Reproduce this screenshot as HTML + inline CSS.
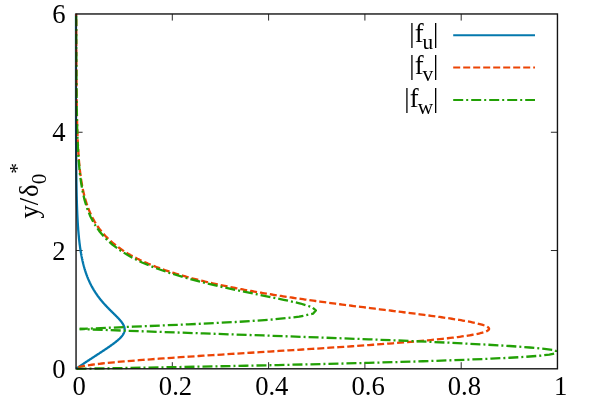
<!DOCTYPE html>
<html><head><meta charset="utf-8"><title>plot</title>
<style>html,body{margin:0;padding:0;background:#fff;}body{width:592px;height:415px;overflow:hidden;font-family:"Liberation Serif",serif;}</style>
</head><body>
<svg width="592" height="415" viewBox="0 0 592 415" style="display:block;will-change:transform">
<rect width="592" height="415" fill="#fff"/>
<path d="M172.30,368.8 v-6.6 M172.30,13.97 v6.6 M268.60,368.8 v-6.6 M268.60,13.97 v6.6 M364.90,368.8 v-6.6 M364.90,13.97 v6.6 M461.20,368.8 v-6.6 M461.20,13.97 v6.6 M76.0,250.52 h6.6 M557.5,250.52 h-6.6 M76.0,132.25 h6.6 M557.5,132.25 h-6.6" stroke="#2a2a2a" stroke-width="1" fill="none"/>
<clipPath id="pc"><rect x="74.05" y="12.97" width="483.40" height="357.03"/></clipPath>
<g fill="none" stroke-width="2" stroke-linejoin="round" clip-path="url(#pc)">
<path stroke-width="2.3" d="M76.00,368.81 L76.46,368.49 L76.91,368.17 L77.37,367.85 L77.83,367.54 L78.28,367.22 L78.74,366.91 L79.20,366.60 L79.65,366.29 L80.11,365.98 L80.57,365.67 L81.02,365.36 L81.48,365.05 L81.94,364.75 L82.39,364.44 L82.85,364.14 L83.31,363.83 L83.76,363.53 L84.22,363.22 L84.67,362.92 L85.13,362.62 L85.59,362.32 L86.04,362.02 L86.50,361.71 L86.96,361.41 L87.41,361.11 L87.87,360.81 L88.32,360.52 L88.78,360.22 L89.24,359.92 L89.69,359.62 L90.15,359.32 L90.60,359.02 L91.06,358.73 L91.51,358.43 L91.97,358.13 L92.42,357.83 L92.88,357.54 L93.33,357.24 L93.78,356.95 L94.24,356.65 L94.69,356.35 L95.14,356.06 L95.60,355.76 L96.05,355.47 L96.50,355.17 L96.95,354.88 L97.41,354.58 L97.86,354.29 L98.31,353.99 L98.76,353.70 L99.21,353.41 L99.65,353.11 L100.10,352.82 L100.55,352.52 L101.00,352.23 L101.44,351.94 L101.89,351.64 L102.33,351.35 L102.78,351.06 L103.22,350.77 L103.66,350.47 L104.10,350.18 L104.54,349.89 L104.98,349.59 L105.41,349.30 L105.85,349.01 L106.28,348.72 L106.71,348.43 L107.15,348.13 L107.57,347.84 L108.00,347.55 L108.43,347.26 L108.85,346.97 L109.27,346.68 L109.69,346.39 L110.11,346.09 L110.52,345.80 L110.93,345.51 L111.34,345.22 L111.75,344.93 L112.15,344.64 L112.55,344.35 L112.95,344.06 L113.34,343.77 L113.73,343.48 L114.12,343.19 L114.50,342.90 L114.88,342.61 L115.25,342.32 L115.62,342.03 L115.99,341.74 L116.35,341.45 L116.70,341.16 L117.05,340.87 L117.40,340.58 L117.74,340.29 L118.07,340.00 L118.40,339.71 L118.72,339.42 L119.04,339.13 L119.34,338.84 L119.65,338.55 L119.94,338.26 L120.23,337.97 L120.51,337.68 L120.78,337.39 L121.05,337.10 L121.31,336.81 L121.55,336.52 L121.80,336.23 L122.03,335.94 L122.25,335.65 L122.46,335.36 L122.67,335.07 L122.87,334.78 L123.05,334.49 L123.23,334.20 L123.39,333.91 L123.55,333.61 L123.70,333.32 L123.83,333.03 L123.96,332.74 L124.08,332.45 L124.18,332.16 L124.27,331.87 L124.36,331.58 L124.43,331.29 L124.49,330.99 L124.54,330.70 L124.58,330.41 L124.61,330.12 L124.63,329.83 L124.64,329.53 L124.64,329.24 L124.62,328.95 L124.60,328.66 L124.56,328.36 L124.52,328.07 L124.46,327.78 L124.40,327.48 L124.32,327.19 L124.23,326.89 L124.14,326.60 L124.03,326.31 L123.92,326.01 L123.79,325.72 L123.66,325.42 L123.52,325.13 L123.37,324.83 L123.21,324.54 L123.04,324.24 L122.86,323.94 L122.68,323.65 L122.49,323.35 L122.29,323.06 L122.09,322.76 L121.87,322.46 L121.66,322.16 L121.43,321.87 L121.20,321.57 L120.96,321.27 L120.72,320.97 L120.47,320.68 L120.22,320.38 L119.97,320.08 L119.70,319.78 L119.44,319.48 L119.17,319.18 L118.90,318.89 L118.62,318.59 L118.34,318.29 L118.05,317.99 L117.77,317.69 L117.48,317.39 L117.19,317.09 L116.89,316.79 L116.60,316.49 L116.30,316.19 L116.00,315.89 L115.70,315.59 L115.40,315.29 L115.10,314.99 L114.79,314.69 L114.49,314.39 L114.18,314.09 L113.88,313.78 L113.57,313.48 L113.26,313.18 L112.96,312.88 L112.65,312.58 L112.34,312.28 L112.04,311.98 L111.73,311.68 L111.43,311.38 L111.12,311.07 L110.82,310.77 L110.52,310.47 L110.21,310.17 L109.91,309.87 L109.61,309.57 L109.31,309.27 L109.01,308.96 L108.72,308.66 L108.42,308.36 L108.13,308.06 L107.84,307.76 L107.54,307.46 L107.25,307.16 L106.97,306.86 L106.68,306.55 L106.39,306.25 L106.11,305.95 L105.83,305.65 L105.55,305.35 L105.27,305.05 L105.00,304.75 L104.72,304.45 L104.45,304.15 L104.18,303.85 L103.91,303.55 L103.64,303.25 L103.38,302.94 L103.12,302.64 L102.86,302.34 L102.60,302.04 L102.34,301.74 L102.09,301.44 L101.83,301.14 L101.58,300.84 L101.33,300.54 L101.09,300.24 L100.84,299.94 L100.60,299.65 L100.36,299.35 L100.12,299.05 L99.88,298.75 L99.65,298.45 L99.42,298.15 L99.19,297.85 L98.96,297.55 L98.73,297.25 L98.51,296.95 L98.28,296.65 L98.06,296.36 L97.85,296.06 L97.63,295.76 L97.41,295.46 L97.20,295.16 L96.99,294.86 L96.78,294.57 L96.57,294.27 L96.37,293.97 L96.17,293.67 L95.97,293.37 L95.77,293.08 L95.57,292.78 L95.37,292.48 L95.18,292.18 L94.99,291.89 L94.80,291.59 L94.61,291.29 L94.42,290.99 L94.24,290.70 L94.05,290.40 L93.87,290.10 L93.69,289.81 L93.52,289.51 L93.34,289.21 L93.17,288.91 L92.99,288.62 L92.82,288.32 L92.65,288.02 L92.49,287.73 L92.32,287.43 L92.15,287.13 L91.99,286.84 L91.83,286.54 L91.67,286.24 L91.51,285.95 L91.36,285.65 L91.20,285.36 L91.05,285.06 L90.90,284.76 L90.75,284.47 L90.60,284.17 L90.45,283.87 L90.30,283.58 L90.16,283.28 L90.02,282.99 L89.87,282.69 L89.73,282.39 L89.59,282.10 L89.46,281.80 L89.32,281.51 L89.19,281.21 L89.05,280.91 L88.92,280.62 L88.79,280.32 L88.66,280.03 L88.53,279.73 L88.41,279.43 L88.28,279.14 L88.16,278.84 L88.03,278.55 L87.91,278.25 L87.79,277.95 L87.67,277.66 L87.55,277.36 L87.43,277.07 L87.32,276.77 L87.20,276.48 L87.09,276.18 L86.98,275.88 L86.87,275.59 L86.76,275.29 L86.65,275.00 L86.54,274.70 L86.43,274.41 L86.33,274.11 L86.22,273.81 L86.12,273.52 L86.02,273.22 L85.91,272.93 L85.81,272.63 L85.71,272.34 L85.61,272.04 L85.52,271.75 L85.42,271.45 L85.32,271.15 L85.23,270.86 L85.14,270.56 L85.04,270.27 L84.95,269.97 L84.86,269.68 L84.77,269.38 L84.68,269.08 L84.59,268.79 L84.51,268.49 L84.42,268.20 L84.33,267.90 L84.25,267.61 L84.17,267.31 L84.08,267.02 L84.00,266.72 L83.92,266.42 L83.84,266.13 L83.76,265.83 L83.68,265.54 L83.60,265.24 L83.53,264.95 L83.45,264.65 L83.37,264.35 L83.30,264.06 L83.22,263.76 L83.15,263.47 L83.08,263.17 L83.01,262.88 L82.94,262.58 L82.87,262.29 L82.80,261.99 L82.73,261.69 L82.66,261.40 L82.59,261.10 L82.52,260.81 L82.46,260.51 L82.39,260.22 L82.33,259.92 L82.26,259.63 L82.20,259.33 L82.14,259.03 L82.07,258.74 L82.01,258.44 L81.95,258.15 L81.89,257.85 L81.83,257.56 L81.77,257.26 L81.71,256.97 L81.65,256.67 L81.60,256.37 L81.54,256.08 L81.48,255.78 L81.43,255.49 L81.37,255.19 L81.32,254.90 L81.26,254.60 L81.21,254.30 L81.16,254.01 L81.11,253.71 L81.05,253.42 L81.00,253.12 L80.95,252.83 L80.90,252.53 L80.85,252.24 L80.80,251.94 L80.75,251.64 L80.70,251.35 L80.66,251.05 L80.61,250.76 L80.56,250.46 L80.52,250.17 L80.34,248.98 L80.16,247.80 L80.00,246.62 L79.84,245.44 L79.68,244.26 L79.53,243.07 L79.39,241.89 L79.26,240.71 L79.13,239.53 L79.00,238.34 L78.88,237.16 L78.77,235.98 L78.66,234.80 L78.55,233.61 L78.45,232.43 L78.35,231.25 L78.25,230.07 L78.16,228.88 L78.08,227.70 L77.99,226.52 L77.91,225.34 L77.84,224.16 L77.76,222.97 L77.69,221.79 L77.63,220.61 L77.56,219.43 L77.50,218.24 L77.44,217.06 L77.38,215.88 L77.33,214.70 L77.27,213.51 L77.22,212.33 L77.17,211.15 L77.13,209.97 L77.08,208.78 L77.04,207.60 L77.00,206.42 L76.96,205.24 L76.92,204.06 L76.88,202.87 L76.85,201.69 L76.81,200.51 L76.78,199.33 L76.75,198.14 L76.72,196.96 L76.69,195.78 L76.66,194.60 L76.64,193.41 L76.61,192.23 L76.59,191.05 L76.56,189.87 L76.54,188.69 L76.52,187.50 L76.50,186.32 L76.48,185.14 L76.46,183.96 L76.44,182.77 L76.42,181.59 L76.41,180.41 L76.39,179.23 L76.37,178.04 L76.36,176.86 L76.34,175.68 L76.33,174.50 L76.32,173.31 L76.30,172.13 L76.29,170.95 L76.28,169.77 L76.27,168.59 L76.26,167.40 L76.25,166.22 L76.24,165.04 L76.23,163.86 L76.22,162.67 L76.21,161.49 L76.20,160.31 L76.19,159.13 L76.19,157.94 L76.18,156.76 L76.17,155.58 L76.16,154.40 L76.16,153.22 L76.15,152.03 L76.15,150.85 L76.14,149.67 L76.13,148.49 L76.13,147.30 L76.12,146.12 L76.12,144.94 L76.11,143.76 L76.11,142.57 L76.11,141.39 L76.10,140.21 L76.10,139.03 L76.09,137.84 L76.09,136.66 L76.09,135.48 L76.08,134.30 L76.08,133.12 L76.08,131.93 L76.07,130.75 L76.07,129.57 L76.07,128.39 L76.06,127.20 L76.06,126.02 L76.06,124.84 L76.06,123.66 L76.05,122.47 L76.05,121.29 L76.05,120.11 L76.05,118.93 L76.05,117.75 L76.04,116.56 L76.04,115.38 L76.04,114.20 L76.04,113.02 L76.04,111.83 L76.04,110.65 L76.03,109.47 L76.03,108.29 L76.03,107.10 L76.03,105.92 L76.03,104.74 L76.03,103.56 L76.03,102.38 L76.03,101.19 L76.03,100.01 L76.02,98.83 L76.02,97.65 L76.02,96.46 L76.02,95.28 L76.02,94.10 L76.02,92.92 L76.02,91.73 L76.02,90.55 L76.02,89.37 L76.02,88.19 L76.02,87.00 L76.02,85.82 L76.01,84.64 L76.01,83.46 L76.01,82.28 L76.01,81.09 L76.01,79.91 L76.01,78.73 L76.01,77.55 L76.01,76.36 L76.01,75.18 L76.01,74.00 L76.01,72.82 L76.01,71.63 L76.01,70.45 L76.01,69.27 L76.01,68.09 L76.01,66.91 L76.01,65.72 L76.01,64.54 L76.01,63.36 L76.01,62.18 L76.01,60.99 L76.01,59.81 L76.01,58.63 L76.01,57.45 L76.01,56.26 L76.01,55.08 L76.01,53.90 L76.00,52.72 L76.00,51.53 L76.00,50.35 L76.00,49.17 L76.00,47.99 L76.00,46.81 L76.00,45.62 L76.00,44.44 L76.00,43.26 L76.00,42.08 L76.00,40.89 L76.00,39.71 L76.00,38.53 L76.00,37.35 L76.00,36.16 L76.00,34.98 L76.00,33.80 L76.00,32.62 L76.00,31.44 L76.00,30.25 L76.00,29.07 L76.00,27.89 L76.00,26.71 L76.00,25.52 L76.00,24.34 L76.00,23.16 L76.00,21.98 L76.00,20.79 L76.00,19.61 L76.00,18.43 L76.00,17.25 L76.00,16.06 L76.00,14.88 L76.00,13.70" stroke="#0478ad"/>
<path stroke-width="2.3" d="M76.00,368.80 L76.11,368.48 L76.43,368.16 L76.95,367.85 L77.67,367.53 L78.58,367.22 L79.67,366.90 L80.93,366.59 L82.36,366.28 L83.96,365.97 L85.72,365.66 L87.63,365.35 L89.68,365.04 L91.89,364.74 L94.22,364.43 L96.70,364.12 L99.30,363.82 L102.02,363.51 L104.86,363.21 L107.82,362.91 L110.89,362.60 L114.07,362.30 L117.34,362.00 L120.72,361.70 L124.19,361.40 L127.75,361.09 L131.40,360.79 L135.13,360.49 L138.94,360.19 L142.82,359.89 L146.78,359.59 L150.80,359.29 L154.89,359.00 L159.05,358.70 L163.26,358.40 L167.52,358.10 L171.84,357.80 L176.21,357.50 L180.62,357.21 L185.08,356.91 L189.57,356.61 L194.11,356.31 L198.67,356.01 L203.27,355.72 L207.90,355.42 L212.55,355.12 L217.23,354.83 L221.93,354.53 L226.64,354.23 L231.37,353.94 L236.12,353.64 L240.87,353.34 L245.63,353.05 L250.40,352.75 L255.17,352.45 L259.94,352.16 L264.71,351.86 L269.47,351.56 L274.23,351.27 L278.98,350.97 L283.72,350.67 L288.45,350.38 L293.16,350.08 L297.85,349.79 L302.53,349.49 L307.18,349.19 L311.81,348.90 L316.41,348.60 L320.99,348.31 L325.54,348.01 L330.05,347.71 L334.53,347.42 L338.98,347.12 L343.39,346.83 L347.76,346.53 L352.09,346.23 L356.37,345.94 L360.62,345.64 L364.81,345.35 L368.96,345.05 L373.06,344.76 L377.10,344.46 L381.10,344.16 L385.04,343.87 L388.92,343.57 L392.75,343.28 L396.51,342.98 L400.22,342.69 L403.87,342.39 L407.45,342.09 L410.96,341.80 L414.41,341.50 L417.80,341.21 L421.11,340.91 L424.36,340.62 L427.53,340.32 L430.64,340.02 L433.67,339.73 L436.62,339.43 L439.50,339.14 L442.31,338.84 L445.03,338.55 L447.68,338.25 L450.26,337.96 L452.75,337.66 L455.16,337.36 L457.49,337.07 L459.74,336.77 L461.91,336.48 L464.00,336.18 L466.00,335.89 L467.92,335.59 L469.76,335.30 L471.52,335.00 L473.19,334.70 L474.77,334.41 L476.27,334.11 L477.69,333.82 L479.02,333.52 L480.27,333.23 L481.44,332.93 L482.52,332.63 L483.51,332.34 L484.43,332.04 L485.26,331.75 L486.00,331.45 L486.67,331.16 L487.25,330.86 L487.75,330.57 L488.17,330.27 L488.51,329.97 L488.77,329.68 L488.95,329.38 L489.06,329.09 L489.08,328.79 L489.03,328.50 L488.90,328.20 L488.70,327.91 L488.43,327.61 L488.08,327.31 L487.66,327.02 L487.17,326.72 L486.61,326.43 L485.98,326.13 L485.28,325.84 L484.52,325.54 L483.69,325.24 L482.80,324.95 L481.84,324.65 L480.83,324.36 L479.75,324.06 L478.62,323.77 L477.43,323.47 L476.19,323.18 L474.88,322.88 L473.53,322.58 L472.13,322.29 L470.67,321.99 L469.17,321.70 L467.62,321.40 L466.02,321.11 L464.38,320.81 L462.69,320.52 L460.97,320.22 L459.20,319.92 L457.39,319.63 L455.55,319.33 L453.67,319.04 L451.76,318.74 L449.81,318.45 L447.83,318.15 L445.83,317.86 L443.79,317.56 L441.72,317.26 L439.63,316.97 L437.51,316.67 L435.37,316.38 L433.20,316.08 L431.02,315.79 L428.81,315.49 L426.59,315.20 L424.35,314.90 L422.09,314.60 L419.81,314.31 L417.52,314.01 L415.22,313.72 L412.91,313.42 L410.58,313.13 L408.25,312.83 L405.90,312.53 L403.55,312.24 L401.19,311.94 L398.83,311.65 L396.46,311.35 L394.08,311.06 L391.71,310.76 L389.32,310.47 L386.94,310.17 L384.56,309.87 L382.18,309.58 L379.79,309.28 L377.41,308.99 L375.03,308.69 L372.65,308.40 L370.28,308.10 L367.91,307.81 L365.54,307.51 L363.18,307.21 L360.83,306.92 L358.48,306.62 L356.14,306.33 L353.80,306.03 L351.48,305.74 L349.16,305.44 L346.85,305.15 L344.55,304.85 L342.26,304.55 L339.97,304.26 L337.70,303.96 L335.44,303.67 L333.19,303.37 L330.95,303.08 L328.72,302.78 L326.51,302.48 L324.30,302.19 L322.11,301.89 L319.93,301.60 L317.77,301.30 L315.61,301.01 L313.47,300.71 L311.35,300.42 L309.23,300.12 L307.13,299.82 L305.05,299.53 L302.98,299.23 L300.92,298.94 L298.87,298.64 L296.85,298.35 L294.83,298.05 L292.83,297.76 L290.84,297.46 L288.87,297.16 L286.91,296.87 L284.97,296.57 L283.04,296.28 L281.13,295.98 L279.23,295.69 L277.35,295.39 L275.48,295.10 L273.63,294.80 L271.79,294.50 L269.97,294.21 L268.16,293.91 L266.36,293.62 L264.58,293.32 L262.82,293.03 L261.07,292.73 L259.33,292.44 L257.61,292.14 L255.91,291.84 L254.21,291.55 L252.54,291.25 L250.87,290.96 L249.23,290.66 L247.59,290.37 L245.97,290.07 L244.37,289.77 L242.78,289.48 L241.20,289.18 L239.64,288.89 L238.09,288.59 L236.55,288.30 L235.03,288.00 L233.52,287.71 L232.03,287.41 L230.54,287.11 L229.08,286.82 L227.62,286.52 L226.18,286.23 L224.75,285.93 L223.34,285.64 L221.94,285.34 L220.55,285.05 L219.17,284.75 L217.81,284.45 L216.45,284.16 L215.12,283.86 L213.79,283.57 L212.48,283.27 L211.17,282.98 L209.88,282.68 L208.61,282.39 L207.34,282.09 L206.09,281.79 L204.85,281.50 L203.62,281.20 L202.40,280.91 L201.19,280.61 L199.99,280.32 L198.81,280.02 L197.63,279.73 L196.47,279.43 L195.32,279.13 L194.18,278.84 L193.05,278.54 L191.93,278.25 L190.82,277.95 L189.72,277.66 L188.64,277.36 L187.56,277.06 L186.49,276.77 L185.43,276.47 L184.39,276.18 L183.35,275.88 L182.32,275.59 L181.30,275.29 L180.30,275.00 L179.30,274.70 L178.31,274.40 L177.33,274.11 L176.36,273.81 L175.40,273.52 L174.45,273.22 L173.51,272.93 L172.57,272.63 L171.65,272.34 L170.73,272.04 L169.83,271.74 L168.93,271.45 L168.04,271.15 L167.16,270.86 L166.28,270.56 L165.42,270.27 L164.56,269.97 L163.72,269.68 L162.88,269.38 L162.05,269.08 L161.22,268.79 L160.41,268.49 L159.60,268.20 L158.80,267.90 L158.01,267.61 L157.22,267.31 L156.44,267.01 L155.67,266.72 L154.91,266.42 L154.16,266.13 L153.41,265.83 L152.67,265.54 L151.93,265.24 L151.21,264.95 L150.49,264.65 L149.77,264.35 L149.07,264.06 L148.37,263.76 L147.68,263.47 L146.99,263.17 L146.31,262.88 L145.64,262.58 L144.97,262.29 L144.31,261.99 L143.66,261.69 L143.01,261.40 L142.37,261.10 L141.74,260.81 L141.11,260.51 L140.49,260.22 L139.87,259.92 L139.26,259.63 L138.65,259.33 L138.06,259.03 L137.46,258.74 L136.88,258.44 L136.29,258.15 L135.72,257.85 L135.15,257.56 L134.58,257.26 L134.02,256.97 L133.47,256.67 L132.92,256.37 L132.38,256.08 L131.84,255.78 L131.30,255.49 L130.78,255.19 L130.25,254.90 L129.73,254.60 L129.22,254.30 L128.71,254.01 L128.21,253.71 L127.71,253.42 L127.22,253.12 L126.73,252.83 L126.25,252.53 L125.77,252.24 L125.29,251.94 L124.82,251.64 L124.36,251.35 L123.90,251.05 L123.44,250.76 L122.99,250.46 L122.54,250.17 L120.79,248.98 L119.11,247.80 L117.49,246.62 L115.93,245.44 L114.44,244.26 L113.00,243.07 L111.61,241.89 L110.28,240.71 L109.00,239.53 L107.77,238.34 L106.58,237.16 L105.44,235.98 L104.35,234.80 L103.29,233.61 L102.28,232.43 L101.31,231.25 L100.37,230.07 L99.47,228.88 L98.60,227.70 L97.76,226.52 L96.96,225.34 L96.19,224.16 L95.45,222.97 L94.73,221.79 L94.05,220.61 L93.39,219.43 L92.75,218.24 L92.14,217.06 L91.55,215.88 L90.99,214.70 L90.44,213.51 L89.92,212.33 L89.42,211.15 L88.93,209.97 L88.46,208.78 L88.02,207.60 L87.58,206.42 L87.17,205.24 L86.77,204.06 L86.38,202.87 L86.01,201.69 L85.65,200.51 L85.31,199.33 L84.98,198.14 L84.66,196.96 L84.36,195.78 L84.06,194.60 L83.78,193.41 L83.50,192.23 L83.24,191.05 L82.99,189.87 L82.74,188.69 L82.51,187.50 L82.28,186.32 L82.06,185.14 L81.85,183.96 L81.65,182.77 L81.45,181.59 L81.26,180.41 L81.08,179.23 L80.91,178.04 L80.74,176.86 L80.58,175.68 L80.42,174.50 L80.27,173.31 L80.13,172.13 L79.99,170.95 L79.86,169.77 L79.73,168.59 L79.60,167.40 L79.48,166.22 L79.37,165.04 L79.26,163.86 L79.15,162.67 L79.04,161.49 L78.94,160.31 L78.85,159.13 L78.76,157.94 L78.67,156.76 L78.58,155.58 L78.50,154.40 L78.42,153.22 L78.34,152.03 L78.27,150.85 L78.20,149.67 L78.13,148.49 L78.06,147.30 L78.00,146.12 L77.94,144.94 L77.88,143.76 L77.82,142.57 L77.76,141.39 L77.71,140.21 L77.66,139.03 L77.61,137.84 L77.56,136.66 L77.52,135.48 L77.47,134.30 L77.43,133.12 L77.39,131.93 L77.35,130.75 L77.31,129.57 L77.27,128.39 L77.24,127.20 L77.20,126.02 L77.17,124.84 L77.14,123.66 L77.11,122.47 L77.08,121.29 L77.05,120.11 L77.02,118.93 L76.99,117.75 L76.97,116.56 L76.94,115.38 L76.92,114.20 L76.89,113.02 L76.87,111.83 L76.85,110.65 L76.83,109.47 L76.81,108.29 L76.79,107.10 L76.77,105.92 L76.75,104.74 L76.73,103.56 L76.72,102.38 L76.70,101.19 L76.68,100.01 L76.67,98.83 L76.65,97.65 L76.64,96.46 L76.62,95.28 L76.61,94.10 L76.60,92.92 L76.59,91.73 L76.57,90.55 L76.56,89.37 L76.55,88.19 L76.54,87.00 L76.53,85.82 L76.52,84.64 L76.51,83.46 L76.50,82.28 L76.49,81.09 L76.48,79.91 L76.47,78.73 L76.46,77.55 L76.45,76.36 L76.45,75.18 L76.44,74.00 L76.43,72.82 L76.42,71.63 L76.42,70.45 L76.41,69.27 L76.40,68.09 L76.39,66.91 L76.39,65.72 L76.38,64.54 L76.38,63.36 L76.37,62.18 L76.36,60.99 L76.36,59.81 L76.35,58.63 L76.35,57.45 L76.34,56.26 L76.34,55.08 L76.33,53.90 L76.33,52.72 L76.32,51.53 L76.32,50.35 L76.32,49.17 L76.31,47.99 L76.31,46.81 L76.30,45.62 L76.30,44.44 L76.30,43.26 L76.29,42.08 L76.29,40.89 L76.28,39.71 L76.28,38.53 L76.28,37.35 L76.27,36.16 L76.27,34.98 L76.27,33.80 L76.26,32.62 L76.26,31.44 L76.26,30.25 L76.26,29.07 L76.25,27.89 L76.25,26.71 L76.25,25.52 L76.24,24.34 L76.24,23.16 L76.24,21.98 L76.24,20.79 L76.23,19.61 L76.23,18.43 L76.23,17.25 L76.23,16.06 L76.23,14.88 L76.22,13.70" stroke="#ec4405" stroke-dasharray="7 3" stroke-dashoffset="7.3"/>
<path stroke-width="2.3" d="M76.00,368.80 L111.37,368.24 L145.82,367.65 L179.75,367.03 L213.15,366.40 L245.93,365.74 L278.00,365.05 L309.23,364.34 L339.47,363.61 L368.59,362.85 L396.42,362.06 L422.79,361.25 L447.51,360.42 L470.38,359.56 L491.21,358.67 L509.76,357.76 L525.81,356.81 L539.10,355.78 L549.37,354.60 L555.82,353.19 L555.82,351.78 L555.82,350.74 L554.06,350.02 L544.43,348.89 L529.72,347.49 L509.57,346.01 L483.62,344.45 L451.60,342.82 L413.36,341.11 L368.92,339.31 L318.62,337.44 L263.14,335.47 L203.63,333.41 L141.75,331.26 L79.66,329.02" stroke="#22a005" stroke-dasharray="10 3 2 3" stroke-dashoffset="17.5"/>
<path stroke-width="2.3" d="M79.66,329.02 L132.92,326.69 L188.26,324.35 L235.70,322.01 L273.11,319.48 L299.15,316.68 L312.99,313.66 L315.81,310.46 L311.84,307.09 L300.49,303.52 L283.74,299.76 L264.29,295.79 L243.83,291.63 L223.56,287.28 L204.26,282.74 L186.40,278.01 L170.07,273.06 L155.16,267.89 L142.05,262.47 L130.62,256.79 L120.77,250.84 L112.36,244.60 L105.25,238.06 L99.32,231.19 L94.42,224.00 L90.42,216.45 L87.18,208.53 L84.62,200.23 L82.63,191.52 L81.05,182.39 L79.82,172.82 L78.88,162.78 L78.16,152.24 L77.62,141.20 L77.21,129.62 L76.92,117.47 L76.71,104.73 L76.55,91.37 L76.44,77.36 L76.36,62.67 L76.30,47.26 L76.26,31.10 L76.22,14.15" stroke="#22a005" stroke-dasharray="10 3 2 3" stroke-dashoffset="1.8"/>
<path d="M453.2,35.2 H535" stroke="#0478ad"/>
<path d="M453.2,67.6 H535" stroke="#ec4405" stroke-dasharray="7 3"/>
<path d="M453.2,100 H535" stroke="#22a005" stroke-dasharray="10 3 2 3"/>
</g>
<rect x="76.05" y="13.97" width="481.40" height="354.83" fill="none" stroke="#141414" stroke-width="1.4"/>
<g font-family="Liberation Serif, serif" font-size="26.67" fill="#000">
<text x="79.20" y="395.4" text-anchor="middle">0</text>
<text x="175.50" y="395.4" text-anchor="middle">0.2</text>
<text x="271.80" y="395.4" text-anchor="middle">0.4</text>
<text x="368.10" y="395.4" text-anchor="middle">0.6</text>
<text x="464.40" y="395.4" text-anchor="middle">0.8</text>
<text x="560.70" y="395.4" text-anchor="middle">1</text>
<text x="65.6" y="377.80" text-anchor="end">0</text>
<text x="65.6" y="259.57" text-anchor="end">2</text>
<text x="65.6" y="141.33" text-anchor="end">4</text>
<text x="65.6" y="23.10" text-anchor="end">6</text>
<text x="438.45" y="41.80" text-anchor="end">|f<tspan font-size="21.33" dy="7" dx="-1.1">u</tspan><tspan dy="-7">|</tspan></text>
<text x="438.45" y="74.20" text-anchor="end">|f<tspan font-size="21.33" dy="7" dx="-1.1">v</tspan><tspan dy="-7">|</tspan></text>
<text x="438.45" y="106.60" text-anchor="end">|f<tspan font-size="21.33" dy="7" dx="-0.85">w</tspan><tspan dy="-7">|</tspan></text>
<text transform="translate(37.7,218.5) rotate(-90)" x="0" y="0">y/<tspan dx="0.9">δ</tspan><tspan font-size="21.33" dy="7.9">0</tspan><tspan font-size="21.33" dy="-21.8">*</tspan></text>
</g>
</svg>
</body></html>
